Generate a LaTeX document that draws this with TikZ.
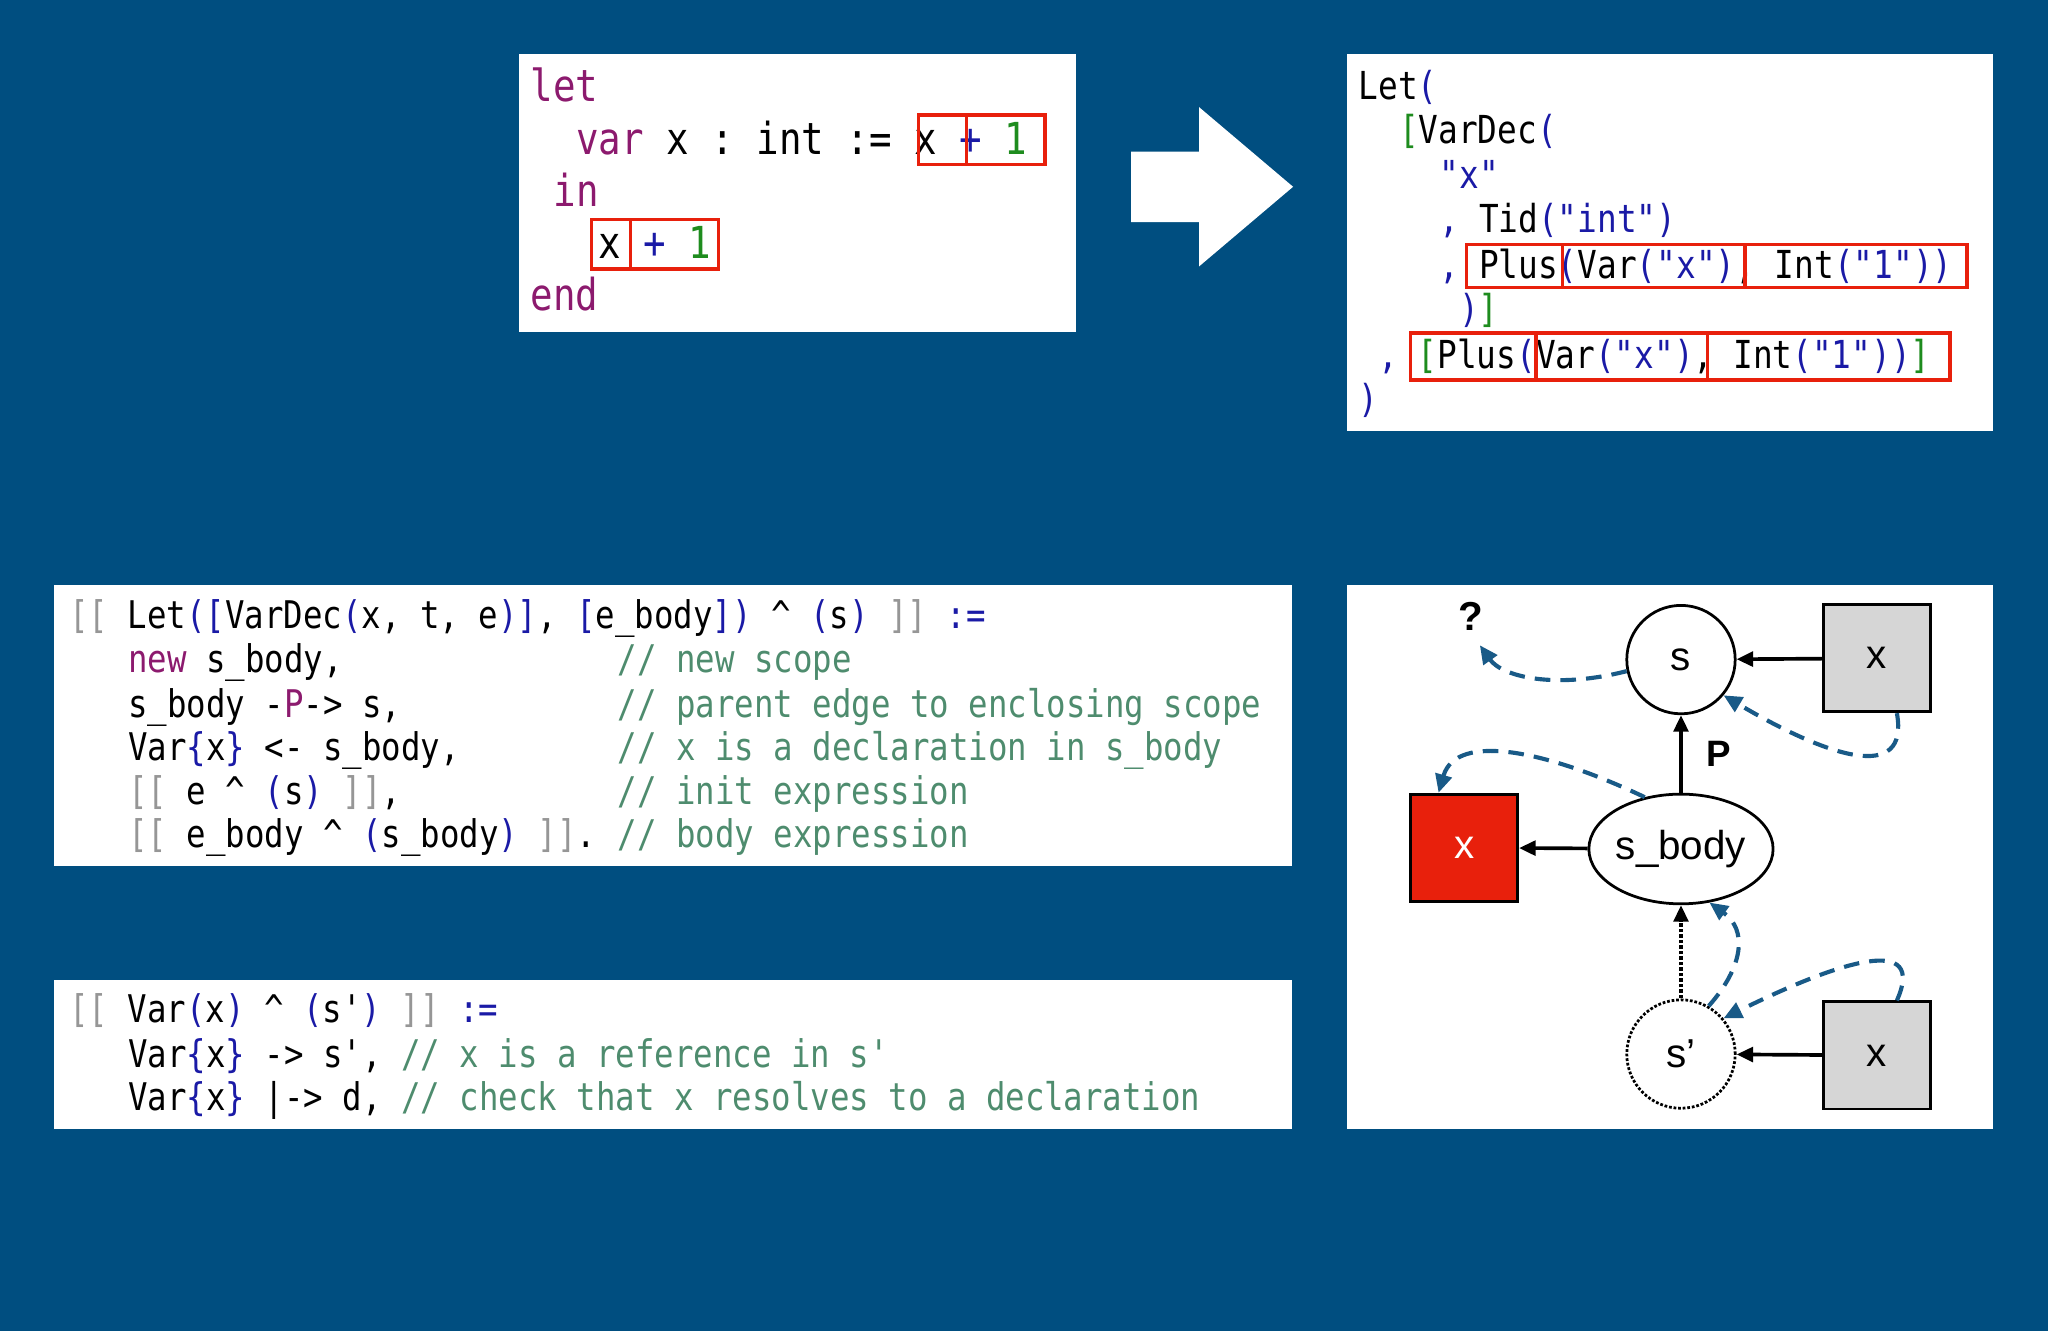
\documentclass[tikz,border=0pt]{standalone}
\usepackage{fontspec}
\setmainfont{Liberation Sans}
\setmonofont[FakeStretch=0.85]{DejaVu Sans Mono}
\usetikzlibrary{arrows.meta,shapes.geometric}
\definecolor{bg}{RGB}{0,78,128}
\definecolor{kwc}{RGB}{140,26,110}
\definecolor{blc}{RGB}{26,26,166}
\definecolor{grc}{RGB}{30,140,30}
\definecolor{cmc}{RGB}{78,140,110}
\definecolor{gyc}{RGB}{150,150,150}
\definecolor{dsh}{RGB}{25,90,135}
\definecolor{redx}{RGB}{232,32,12}
\definecolor{grayx}{RGB}{214,214,214}
\newcommand{\Kw}[1]{\textcolor{kwc}{#1}}
\newcommand{\Bl}[1]{\textcolor{blc}{#1}}
\newcommand{\Gr}[1]{\textcolor{grc}{#1}}
\newcommand{\Cm}[1]{\textcolor{cmc}{#1}}
\newcommand{\Gy}[1]{\textcolor{gyc}{#1}}
\newcommand{\Ct}{\textasciicircum}
\begin{document}
\begin{tikzpicture}[x=0.05cm,y=-0.05cm,
  cA/.style={anchor=base west,inner sep=0,font=\ttfamily\fontsize{48}{48}\selectfont},
  cB/.style={anchor=base west,inner sep=0,font=\ttfamily\fontsize{42}{42}\selectfont},
  cC/.style={anchor=base west,inner sep=0,font=\ttfamily\fontsize{41.5}{41.5}\selectfont},
  rb/.style={draw=redx,line width=3.5pt},
  arr/.style={line width=4pt,-{Triangle[length=18pt,width=16pt]}},
  bdash/.style={draw=dsh,line width=4.5pt,dash pattern=on 17pt off 11pt,-{Triangle[length=20pt,width=18pt]}},
  lab/.style={font=\fontsize{44}{44}\selectfont},
  sq/.style={draw,line width=3pt,minimum size=4.1cm,inner sep=0}]
\fill[bg] (0,0) rectangle (1568,1019);
\useasboundingbox (0,0) rectangle (1568,1019);
% top-left box
\fill[white] (397,41) rectangle (824,254);
\node[cA] (a1) at (406,78) {\Kw{let}};
\node[cA] (a2) at (441,118) {\Kw{var} x : int := x \Bl{+} \Gr{1}};
\node[cA] (a3) at (424,158) {\Kw{in}};
\node[cA] (a4) at (458,198) {x \Bl{+} \Gr{1}};
\node[cA] (a5) at (406,238) {\Kw{end}};
\draw[rb] (703,88) rectangle (740,126) (740,88) rectangle (800,126);
\draw[rb] (453,168) rectangle (483,206) (483,168) rectangle (550,206);
% big arrow
\fill[white] (866,116) -- (918,116) -- (918,82) -- (990,143) -- (918,204) -- (918,170) -- (866,170) -- cycle;
% top-right box
\fill[white] (1031,41) rectangle (1526,330);
\node[cB] (b1) at (1040,76) {Let\Bl{(}};
\node[cB] (b2) at (1071,110) {\Gr{[}VarDec\Bl{(}};
\node[cB] (b3) at (1102,144) {\Bl{"x"}};
\node[cB] (b4) at (1102,178) {\Bl{,} Tid\Bl{("int")}};
\node[cB] (b5) at (1102,213) {\Bl{,} Plus\Bl{(}Var\Bl{("x")}, Int\Bl{("1"))}};
\node[cB] (b6) at (1117,247) {\Bl{)}\Gr{]}};
\node[cB] (b7) at (1055,282) {\Bl{,} \Gr{[}Plus\Bl{(}Var\Bl{("x")}, Int\Bl{("1"))}\Gr{]}};
\node[cB] (b8) at (1040,316) {\Bl{)}};
\draw[rb] (1123,187) rectangle (1196,220) (1196,187) rectangle (1336,220) (1336,187) rectangle (1506,220);
\draw[rb] (1080,255) rectangle (1176,291) (1176,255) rectangle (1307,291) (1307,255) rectangle (1493,291);
% middle-left box
\fill[white] (41,448) rectangle (989,663);
\node[cC] (c1) at (53,481) {\Gy{[[} Let\Bl{(}\Bl{[}VarDec\Bl{(}x, t, e\Bl{)}\Bl{]}, \Bl{[}e\_body\Bl{]}\Bl{)} \Ct{} \Bl{(}s\Bl{)} \Gy{]]} \Bl{:=}};
\node[cC] (c2) at (98,515) {\Kw{new} s\_body,};
\node[cC] (c3) at (98,549) {s\_body -\Kw{P}-> s,};
\node[cC] (c4) at (98,582) {Var\Bl{\{}x\Bl{\}} <- s\_body,};
\node[cC] (c5) at (98,616) {\Gy{[[} e \Ct{} \Bl{(}s\Bl{)} \Gy{]]},};
\node[cC] (c6) at (98,649) {\Gy{[[} e\_body \Ct{} \Bl{(}s\_body\Bl{)} \Gy{]]}.};
\node[cC] (k2) at (473,515) {\Cm{// new scope}};
\node[cC] (k3) at (473,549) {\Cm{// parent edge to enclosing scope}};
\node[cC] (k4) at (473,582) {\Cm{// x is a declaration in s\_body}};
\node[cC] (k5) at (473,616) {\Cm{// init expression}};
\node[cC] (k6) at (473,649) {\Cm{// body expression}};
% bottom-left box
\fill[white] (41,750) rectangle (989,864);
\node[cC] (d1) at (53,783) {\Gy{[[} Var\Bl{(}x\Bl{)} \Ct{} \Bl{(}s'\Bl{)} \Gy{]]} \Bl{:=}};
\node[cC] (d2) at (98,817) {Var\Bl{\{}x\Bl{\}} -> s', \Cm{// x is a reference in s'}};
\node[cC] (d3) at (98,850) {Var\Bl{\{}x\Bl{\}} |-> d, \Cm{// check that x resolves to a declaration}};
% graph box
\fill[white] (1031,448) rectangle (1526,864);
\node[circle,draw,line width=3pt,minimum size=4.15cm,inner sep=0,lab] (s) at (1287,505) {s};
\node[ellipse,draw,line width=3pt,minimum width=6.6cm,minimum height=4.2cm,inner sep=0,lab] (sb) at (1287,650) {s\_body};
\node[circle,draw,line width=3pt,dotted,minimum size=4.15cm,inner sep=0,lab] (sp) at (1287,807) {s’};
\node[sq,fill=grayx,lab] (g1) at (1437,504) {x};
\node[sq,fill=redx,lab,text=white] (rx) at (1121,649) {x};
\node[sq,fill=grayx,lab] (g2) at (1437,808) {x};
\node[font=\bfseries\fontsize{44}{44}\selectfont] (q) at (1126,472) {?};
\node[font=\bfseries\fontsize{40}{40}\selectfont] (P) at (1316,577) {P};
\coordinate (qa) at (1133,494);
\draw[arr] (g1) -- (s);
\draw[arr] (sb) -- (s);
\draw[arr] (sb) -- (rx);
\draw[arr] (g2) -- (sp);
\draw[arr,dotted] (sp) -- (sb);
\draw[bdash] (s.192) .. controls (1190,528) and (1150,518) .. (qa);
\draw[bdash] (g1.-70) .. controls (1462,600) and (1400,580) .. (s.-40);
\draw[bdash] (sb.125) .. controls (1185,575) and (1115,560) .. (rx.115);
\draw[bdash] (sp.60) .. controls (1335,740) and (1338,712) .. (sb.-62);
\draw[bdash] (g2.70) .. controls (1475,715) and (1410,735) .. (sp.40);
\end{tikzpicture}
\end{document}
